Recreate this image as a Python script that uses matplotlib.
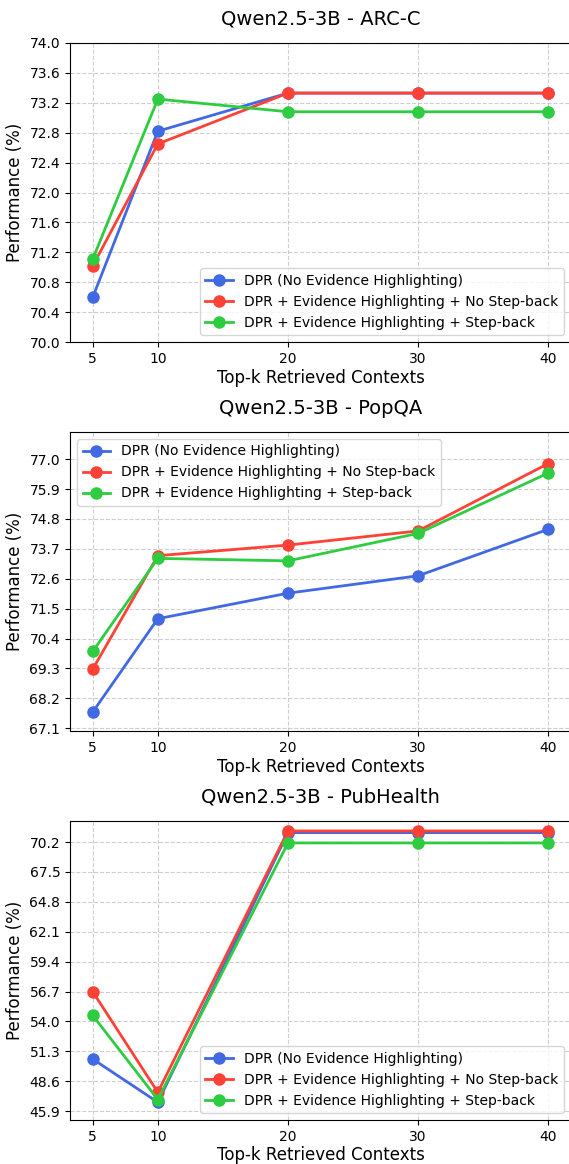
import matplotlib
matplotlib.use("Agg")
import matplotlib.pyplot as plt
import numpy as np

top_k = [5, 10, 20, 30, 40]
series_names = ["DPR (No Evidence Highlighting)",
                "DPR + Evidence Highlighting + No Step-back",
                "DPR + Evidence Highlighting + Step-back"]
colors = ["#4169E1", "#FF4136", "#2ECC40"]

titles = ["Qwen2.5-3B - ARC-C", "Qwen2.5-3B - PopQA", "Qwen2.5-3B - PubHealth"]

arc_blue = [70.60, 72.82, 73.33, 73.33, 73.33]
arc_red = [71.02, 72.65, 73.33, 73.33, 73.33]
arc_green = [71.11, 73.25, 73.08, 73.08, 73.08]

popqa_blue = [67.70, 71.13, 72.07, 72.71, 74.42]
popqa_red = [69.28, 73.45, 73.84, 74.36, 76.84]
popqa_green = [69.93, 73.35, 73.26, 74.27, 76.49]

pub_blue = [50.60, 46.70, 71.05, 71.05, 71.05]
pub_red = [56.68, 47.60, 71.20, 71.20, 71.20]
pub_green = [54.54, 46.95, 70.12, 70.12, 70.12]

arc_ticks = [70.0, 70.4, 70.8, 71.2, 71.6, 72.0, 72.4, 72.8, 73.2, 73.6, 74.0]
popqa_ticks = [67.1, 68.2, 69.3, 70.4, 71.5, 72.6, 73.7, 74.8, 75.9, 77.0]
pub_ticks = [45.9, 48.6, 51.3, 54.0, 56.7, 59.4, 62.1, 64.8, 67.5, 70.2]

panels = [
    (titles[0], [arc_blue, arc_red, arc_green], arc_ticks, (70.0, 74.0), "lower right"),
    (titles[1], [popqa_blue, popqa_red, popqa_green], popqa_ticks, (67.0, 78.0), "upper left"),
    (titles[2], [pub_blue, pub_red, pub_green], pub_ticks, (45.1, 72.1), "lower right"),
]

W, H = 569, 1164
fig = plt.figure(figsize=(W / 100, H / 100), dpi=100)

ax_left, ax_right = 70, 571
tops = [43, 432, 821]
ax_h = 299

for (title, data, ticks, ylim, loc), top in zip(panels, tops):
    ax = fig.add_axes([ax_left / W, 1 - (top + ax_h) / H,
                       (ax_right - ax_left) / W, ax_h / H])
    for vals, name, c in zip(data, series_names, colors):
        ax.plot(top_k, vals, marker="o", color=c, linewidth=2,
                markersize=8, label=name)
    ax.set_xlim(3.25, 41.75)
    ax.set_ylim(*ylim)
    ax.set_xticks(top_k)
    ax.set_yticks(ticks)
    ax.set_yticklabels([f"{t:.1f}" for t in ticks])
    ax.grid(True, linestyle="--", alpha=0.6)
    ax.set_title(title, fontsize=14, pad=13)
    ax.set_xlabel("Top-k Retrieved Contexts", fontsize=12, labelpad=2)
    ax.set_ylabel("Performance (%)", fontsize=12)
    ax.legend(loc=loc, fontsize=10)

fig.savefig("out.png", dpi=100)
